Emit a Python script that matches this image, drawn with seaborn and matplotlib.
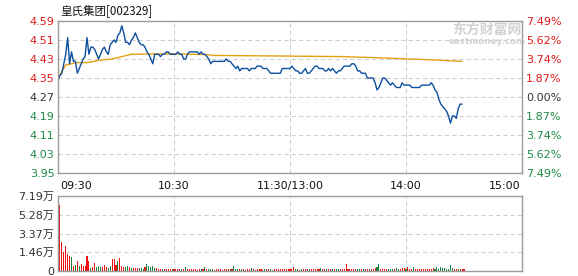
import numpy as np
import pandas as pd
import matplotlib
matplotlib.use("Agg")
import matplotlib.pyplot as plt
import matplotlib.transforms as mtransforms
import seaborn as sns

# ---------------- data ----------------
title = "皇氏集团[002329]"
prev_close = 4.27
price_ticks = [4.59, 4.51, 4.43, 4.35, 4.27, 4.19, 4.11, 4.03, 3.95]
price_tick_labels = ["4.59", "4.51", "4.43", "4.35", "4.27", "4.19", "4.11", "4.03", "3.95"]
pct_tick_labels = ["7.49%", "5.62%", "3.74%", "1.87%", "0.00%", "1.87%", "3.74%", "5.62%", "7.49%"]
time_ticks = [0, 60, 120, 180, 240]
time_labels = ["09:30", "10:30", "11:30/13:00", "14:00", "15:00"]
vol_max = 7.19
vol_tick_labels = ["0", "1.46万", "3.37万", "5.28万", "7.19万"]

# minute prices, 09:30-11:30
price_am = [
    4.34, 4.36, 4.37, 4.41, 4.45, 4.52, 4.41, 4.46, 4.42, 4.42,
    4.37, 4.39, 4.41, 4.43, 4.44, 4.52, 4.45, 4.48, 4.48, 4.47,
    4.45, 4.43, 4.45, 4.47, 4.48, 4.46, 4.45, 4.49, 4.50, 4.51,
    4.50, 4.53, 4.54, 4.57, 4.54, 4.50, 4.50, 4.49, 4.51, 4.52,
    4.54, 4.52, 4.50, 4.49, 4.49, 4.48, 4.46, 4.45, 4.43, 4.41,
    4.45, 4.45, 4.45, 4.44, 4.45, 4.45, 4.46, 4.46, 4.45, 4.45,
    4.45, 4.45, 4.46, 4.45, 4.45, 4.43, 4.43, 4.45, 4.46, 4.46,
    4.46, 4.46, 4.46, 4.45, 4.46, 4.45, 4.45, 4.44, 4.43, 4.41,
    4.42, 4.42, 4.42, 4.42, 4.42, 4.42, 4.42, 4.43, 4.42, 4.42,
    4.41, 4.40, 4.39, 4.40, 4.38, 4.39, 4.39, 4.39, 4.39, 4.38,
    4.39, 4.39, 4.39, 4.40, 4.40, 4.40, 4.39, 4.39, 4.39, 4.38,
    4.37, 4.37, 4.37, 4.37, 4.37, 4.37, 4.39, 4.39, 4.39, 4.39,
    4.39,
]
# minute prices, 13:01-14:29
price_pm = [
    4.40, 4.39, 4.38, 4.38, 4.37, 4.37, 4.38, 4.39, 4.37, 4.37,
    4.38, 4.39, 4.40, 4.40, 4.39, 4.39, 4.39, 4.38, 4.38, 4.39,
    4.38, 4.39, 4.38, 4.37, 4.38, 4.38, 4.39, 4.40, 4.40, 4.40,
    4.40, 4.41, 4.41, 4.40, 4.38, 4.38, 4.37, 4.37, 4.37, 4.35,
    4.35, 4.35, 4.35, 4.33, 4.30, 4.31, 4.33, 4.35, 4.35, 4.34,
    4.33, 4.32, 4.33, 4.32, 4.31, 4.31, 4.31, 4.33, 4.32, 4.32,
    4.32, 4.32, 4.31, 4.31, 4.31, 4.31, 4.31, 4.32, 4.32, 4.32,
    4.32, 4.32, 4.33, 4.32, 4.30, 4.29, 4.26, 4.24, 4.23, 4.22,
    4.21, 4.19, 4.16, 4.19, 4.19, 4.18, 4.22, 4.24, 4.24,
]
# average price line (minute, price)
avg_minutes = [0, 4, 10, 15, 22, 28, 33, 38, 60, 78, 80, 110, 148, 166, 182, 197, 209]
avg_price = [4.35, 4.405, 4.415, 4.415, 4.425, 4.43, 4.44, 4.45, 4.452, 4.448,
             4.445, 4.443, 4.44, 4.435, 4.43, 4.425, 4.42]
# minute volume (万)
volume = [
    6.33, 2.81, 1.85, 2.40, 1.63, 1.44, 1.31, 0.48, 0.58, 0.96,
    0.48, 0.67, 0.48, 0.48, 1.44, 0.96, 0.32, 0.35, 0.74, 0.35,
    0.48, 0.42, 0.35, 0.58, 0.42, 0.26, 0.48, 1.12, 1.12, 0.58,
    0.96, 1.21, 0.48, 0.42, 0.42, 0.48, 0.35, 0.32, 0.29, 0.26,
    0.26, 0.26, 0.26, 0.22, 0.35, 0.67, 0.48, 0.35, 0.48, 0.26,
    0.26, 0.16, 0.19, 0.16, 0.22, 0.19, 0.22,
    0.19, 0.16, 0.22, 0.19, 0.16, 0.22, 0.19, 0.16, 0.38, 0.19,
    0.16, 0.19, 0.22, 0.16, 0.13, 0.19, 0.16, 0.22, 0.35, 0.19,
    0.16, 0.19, 0.22, 0.13, 0.16, 0.19, 0.16, 0.13, 0.19, 0.22,
    0.16, 0.19, 0.16, 0.48, 0.22, 0.19, 0.16, 0.22, 0.19, 0.13,
    0.16, 0.19, 0.26, 0.16, 0.13, 0.16, 0.19, 0.16, 0.13, 0.19,
    0.22, 0.19, 0.16, 0.13, 0.16, 0.19, 0.16, 0.19, 0.16, 0.22,
    0.19, 0.16, 0.19, 0.16,
    0.35, 0.19, 0.16, 0.13, 0.16, 0.19, 0.16, 0.22, 0.16, 0.19,
    0.16, 0.22, 0.19, 0.16, 0.26, 0.16, 0.19, 0.16, 0.22, 0.19,
    0.16, 0.19, 0.22, 0.16, 0.19, 0.16, 0.22, 0.67, 0.19, 0.22,
    0.16, 0.19, 0.22, 0.19, 0.16, 0.22, 0.19, 0.16, 0.22, 0.19,
    0.16, 0.22, 0.26, 0.38, 0.67, 0.22, 0.19, 0.16, 0.22, 0.19,
    0.16, 0.22, 0.19, 0.26, 0.22, 0.19, 0.29, 0.26, 0.22, 0.35,
    0.22, 0.19, 0.35, 0.22, 0.19, 0.16, 0.22, 0.19, 0.16, 0.22,
    0.19, 0.16, 0.26, 0.22, 0.35, 0.22, 0.35, 0.26, 0.29, 0.22,
    0.22, 0.54, 0.26, 0.22, 0.19, 0.22, 0.22, 0.19, 0.22,
]

# ---------------- styling ----------------
RED = "#e41b1b"
GREEN = "#1e8a46"
DARK = "#333333"
BLUE = "#0b4f9f"
ORANGE = "#e3a012"
FRAME = "#9a9a9a"
GRID = "#cdcdcd"
BAR_UP = "#ee1111"
BAR_DOWN = "#13843c"

sns.set_style("white")
plt.rcParams["font.family"] = ["DejaVu Sans", "Noto Sans CJK SC"]
plt.rcParams["axes.unicode_minus"] = False

W, H = 578, 276
fig = plt.figure(figsize=(W / 100, H / 100), dpi=100)
fig.patch.set_facecolor("white")

L, R = 58, 522
ax = fig.add_axes([L / W, (H - 173) / H, (R - L) / W, (173 - 21) / H])
axv = fig.add_axes([L / W, (H - 271) / H, (R - L) / W, (271 - 196) / H])

price = price_am + price_pm
df_price = pd.DataFrame({"minute": np.arange(len(price)), "price": price})
df_avg = pd.DataFrame({"minute": avg_minutes, "avg": avg_price})

prev = [prev_close] + price[:-1]
n = min(len(volume), len(price))
df_vol = pd.DataFrame({
    "minute": np.arange(n) + 1,
    "volume": volume[:n],
    "up": [price[i] >= prev[i] for i in range(n)],
})

sns.lineplot(data=df_avg, x="minute", y="avg", color=ORANGE, lw=1.0, ax=ax)
sns.lineplot(data=df_price, x="minute", y="price", color=BLUE, lw=1.0, ax=ax)

bar_colors = [BAR_UP if u else BAR_DOWN for u in df_vol["up"]]
axv.bar(df_vol["minute"], df_vol["volume"], width=0.55, color=bar_colors,
        linewidth=0, antialiased=False)

grid_kw = dict(color=GRID, lw=0.75, ls=(0, (4, 3)))
for a in (ax, axv):
    a.set_xlim(0, 240)
    a.set_xticks(time_ticks[1:-1])
    a.set_xticklabels([])
    a.xaxis.grid(True, **grid_kw)
    a.set_axisbelow(True)
    a.set_xlabel("")
    a.set_ylabel("")
    for s in a.spines.values():
        s.set_color(FRAME)
        s.set_linewidth(1.0)
    a.tick_params(length=0, pad=2.5, labelsize=8)

# price axis
ax.set_ylim(price_ticks[-1], price_ticks[0])
ax.set_yticks(price_ticks)
ax.set_yticklabels(price_tick_labels)
ax.yaxis.grid(True, **grid_kw)

def lab_color(v):
    if abs(v - prev_close) < 1e-9:
        return DARK
    return RED if v > prev_close else GREEN

for t, v in zip(ax.get_yticklabels(), price_ticks):
    t.set_color(lab_color(v))

axr = ax.twinx()
axr.set_ylim(price_ticks[-1], price_ticks[0])
axr.set_yticks(price_ticks)
axr.set_yticklabels(pct_tick_labels)
axr.tick_params(length=0, pad=3, labelsize=8)
axr.grid(False)
for s in axr.spines.values():
    s.set_visible(False)
for t, v in zip(axr.get_yticklabels(), price_ticks):
    t.set_color(lab_color(v))

# volume axis
axv.set_ylim(0, vol_max)
axv.set_yticks(np.linspace(0, vol_max, 5))
axv.set_yticklabels(vol_tick_labels, color=DARK)
axv.yaxis.grid(True, **grid_kw)

# time labels between the panels
trans = mtransforms.blended_transform_factory(ax.transData, ax.transAxes)
ty = -(186 - 173) / (173 - 21)
aligns = ["left", "center", "center", "center", "right"]
offs = [1.0, 0, 0, 0, -1.0]
for t, lab, ha, o in zip(time_ticks, time_labels, aligns, offs):
    ax.text(t + o, ty, lab, transform=trans, ha=ha, va="center",
            fontsize=8, color="#111111")

# title
fig.text(60 / W, 1 - 12 / H, title, ha="left", va="center", fontsize=8.3,
         color="#111111", family=["Noto Sans CJK SC", "DejaVu Sans"])

# watermark
fig.text(487 / W, 1 - 30 / H, "东方财富网", ha="center", va="center",
         fontsize=10, fontweight="bold", color="#d2d2d2",
         family=["Noto Sans CJK SC", "DejaVu Sans"])
fig.text(487 / W, 1 - 42 / H, "eastmoney.com", ha="center", va="center",
         fontsize=6.3, fontweight="bold", color="#d2d2d2")

fig.savefig("out.png", dpi=100, facecolor="white")
